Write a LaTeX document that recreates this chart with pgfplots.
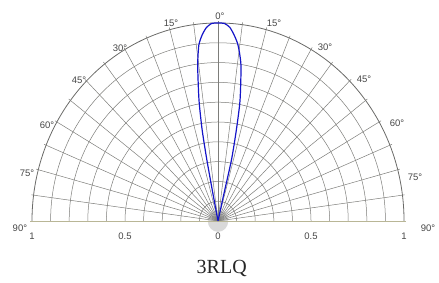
\documentclass[border=0pt]{standalone}
\usepackage{fontspec}
\setmainfont{Liberation Serif}
\newfontfamily\lsans{Liberation Sans}
\usepackage{pgfplots}
\pgfplotsset{compat=1.18}
\definecolor{gridc}{RGB}{125,125,122}
\definecolor{basec}{RGB}{185,182,150}
\definecolor{labc}{RGB}{70,70,70}
\definecolor{beam}{RGB}{20,20,200}
\begin{document}
\begin{tikzpicture}
\begin{axis}[
  x=186pt, y=198pt,
  xmin=-1.172, xmax=1.188, ymin=0, ymax=1.116,
  axis line style={draw=none},
  tick style={draw=none},
  ytick=\empty,
  xtick={-1,-0.5,0,0.5,1},
  xticklabels={1,0.5,0,0.5,1},
  xticklabel style={font=\lsans\fontsize{9.5}{10}\selectfont, text=labc, yshift=-8pt},
  clip=false,
]
% invisible frame fixing the picture size
\path (axis cs:-1.172,-0.313) rectangle (axis cs:1.188,1.116);
% centre shading
\fill[gray!30] (axis cs:0,0) circle [radius=0.055];
\begin{scope}
\clip (axis cs:-1.1,0) rectangle (axis cs:1.1,1.1);
\pgfplotsinvokeforeach{0.1,0.2,0.3,0.4,0.5,0.6,0.7,0.8,0.9}{
  \draw[gridc, line width=0.5pt] (axis cs:0,0) circle [radius=#1];
}
\draw[gridc!85!black, line width=0.8pt] (axis cs:0,0) circle [radius=1];
\end{scope}
\pgfplotsinvokeforeach{0,7.5,15,22.5,30,37.5,45,52.5,60,67.5,75,82.5,90,97.5,105,112.5,120,127.5,135,142.5,150,157.5,165,172.5,180}{
  \addplot[gridc, line width=0.5pt, data cs=polar, forget plot] coordinates {(#1,0) (#1,1.012)};
}
\addplot[basec, line width=0.9pt, forget plot] coordinates {(-1.01,0) (1.01,0)};
% beam pattern (angle measured from horizontal, radius relative)
\addplot[beam, line width=1.2pt, data cs=polar, smooth, tension=0.4, forget plot] coordinates {
(90,0) (77.0,0.14) (76.8,0.317) (77.9,0.47) (79.0,0.62) (81.1,0.797)
(83.1,0.895) (84.8,0.945) (86.3,0.98) (88.0,0.998) (90,1.0) (92.0,0.998)
(93.7,0.978) (95.2,0.943) (96.6,0.895) (97.9,0.795) (99.5,0.62)
(100.5,0.468) (101.0,0.314) (101.2,0.139) (90,0)
};
% angle labels
\begin{scope}[every node/.style={font=\lsans\fontsize{9.5}{10}\selectfont, text=labc, inner sep=0pt}]
\node at (axis cs:0.01,1.035) {0°};
\node at (axis cs:-0.253,1.0) {15°};
\node at (axis cs:-0.527,0.874) {30°};
\node at (axis cs:-0.747,0.712) {45°};
\node at (axis cs:-0.919,0.485) {60°};
\node at (axis cs:-1.027,0.242) {75°};
\node at (axis cs:-1.065,-0.035) {90°};
\node at (axis cs:0.301,1.0) {15°};
\node at (axis cs:0.575,0.879) {30°};
\node at (axis cs:0.785,0.717) {45°};
\node at (axis cs:0.962,0.495) {60°};
\node at (axis cs:1.059,0.222) {75°};
\node at (axis cs:1.129,-0.035) {90°};
\end{scope}
\node[font=\fontsize{20}{22}\selectfont, text=black!85] at (axis cs:0.02,-0.242) {3RLQ};
\end{axis}
\end{tikzpicture}
\end{document}
